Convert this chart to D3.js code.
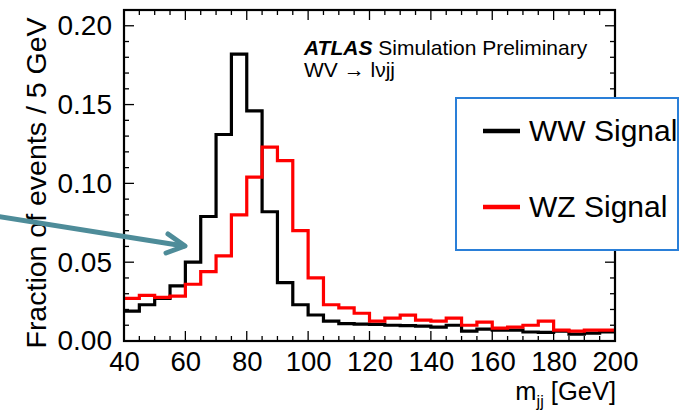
<!DOCTYPE html>
<html>
<head>
<meta charset="utf-8">
<script src="https://cdn.jsdelivr.net/npm/d3@7"></script>
<style>
  html, body { margin: 0; padding: 0; background: #ffffff; }
  svg { display: block; font-family: "Liberation Sans", Arial, Helvetica, sans-serif; }
</style>
</head>
<body>
<svg id="chart" width="699" height="410"></svg>
<script>
// ---- data ----
const binLow = [40,45,50,55,60,65,70,75,80,85,90,95,100,105,110,115,120,125,130,135,140,145,150,155,160,165,170,175,180,185,190,195];
const binWidth = 5;
const wwSignal = [0.019,0.023,0.027,0.035,0.050,0.079,0.131,0.182,0.146,0.082,0.037,0.023,0.0165,0.0126,0.011,0.0107,0.0105,0.010,0.0098,0.0095,0.0088,0.010,0.0063,0.0075,0.0069,0.0069,0.0057,0.0055,0.0063,0.0044,0.0050,0.0057];
const wzSignal = [0.027,0.029,0.0277,0.0285,0.036,0.044,0.054,0.080,0.104,0.123,0.1145,0.070,0.040,0.023,0.021,0.0176,0.0126,0.0145,0.0164,0.0132,0.0126,0.0145,0.010,0.012,0.0082,0.0088,0.010,0.0126,0.0069,0.0063,0.0069,0.0069];
const xMajorTicks = [40,60,80,100,120,140,160,180,200];
const yMajorTicks = [0.00,0.05,0.10,0.15,0.20];
const seriesNames = ["WW Signal","WZ Signal"];
const seriesColors = ["#000000","#ff0000"];

// ---- layout ----
const svg = d3.select("#chart");
const L = 124, R = 615, T = 10, B = 341;
const x = d3.scaleLinear().domain([40,200]).range([L,R]);
const y = d3.scaleLinear().domain([0,0.21]).range([B,T]);

const xMinor = d3.range(40,201,5);
const yMinor = d3.range(0,0.2101,0.01);

// ticks (inside, all four sides)
const tk = svg.append("g").attr("stroke","#000").attr("stroke-width",1.3);
xMinor.forEach(v => {
  const major = v % 20 === 0;
  const len = major ? 10 : 5;
  tk.append("line").attr("x1",x(v)).attr("x2",x(v)).attr("y1",B).attr("y2",B-len);
  tk.append("line").attr("x1",x(v)).attr("x2",x(v)).attr("y1",T).attr("y2",T+len);
});
yMinor.forEach(v => {
  const major = Math.abs(Math.round(v*100) % 5) === 0;
  const len = major ? 10 : 5;
  tk.append("line").attr("x1",L).attr("x2",L+len).attr("y1",y(v)).attr("y2",y(v));
  tk.append("line").attr("x1",R).attr("x2",R-len).attr("y1",y(v)).attr("y2",y(v));
});

// histograms
const stepLine = d3.line().x(d => x(d[0])).y(d => y(d[1])).curve(d3.curveStepAfter);
function pts(vals){
  const p = binLow.map((b,i) => [b, vals[i]]);
  p.push([binLow[binLow.length-1] + binWidth, vals[vals.length-1]]);
  return p;
}
[wwSignal, wzSignal].forEach((vals,i) => {
  svg.append("path").attr("d", stepLine(pts(vals)))
    .attr("fill","none").attr("stroke",seriesColors[i]).attr("stroke-width",3.2)
    .attr("stroke-linejoin","miter");
});

// frame
svg.append("rect").attr("x",L).attr("y",T).attr("width",R-L).attr("height",B-T)
  .attr("fill","none").attr("stroke","#000").attr("stroke-width",2.2);

// tick labels via d3 axes (no lines)
const xAxis = svg.append("g").attr("transform",`translate(0,${B})`)
  .call(d3.axisBottom(x).tickValues(xMajorTicks).tickFormat(d3.format("d")).tickSize(0).tickPadding(10));
xAxis.select(".domain").remove();
xAxis.selectAll("text").attr("font-size",27.5).attr("fill","#000").attr("dy","0.74em")
  .style("font-family","'Liberation Sans', Arial, sans-serif");

const yAxis = svg.append("g").attr("transform",`translate(${L},0)`)
  .call(d3.axisLeft(y).tickValues(yMajorTicks).tickFormat(d3.format(".2f")).tickSize(0).tickPadding(12));
yAxis.select(".domain").remove();
yAxis.selectAll("text").attr("font-size",28).attr("fill","#000")
  .style("font-family","'Liberation Sans', Arial, sans-serif");

// axis titles
const xt = svg.append("text").attr("x",R+1).attr("y",400).attr("text-anchor","end")
  .attr("font-size",25.5).attr("fill","#000");
xt.append("tspan").text("m");
xt.append("tspan").attr("font-size",16).attr("dy",7).text("jj");
xt.append("tspan").attr("dy",-7).text(" [GeV]");

svg.append("text").attr("transform","translate(46,183) rotate(-90)")
  .attr("text-anchor","middle").attr("font-size",28.5).attr("fill","#000")
  .text("Fraction of events / 5 GeV");

// ATLAS label
const at = svg.append("text").attr("x",304).attr("y",55).attr("font-size",21).attr("fill","#000");
at.append("tspan").attr("font-weight","bold").attr("font-style","italic").text("ATLAS");
at.append("tspan").text(" Simulation Preliminary");
svg.append("text").attr("x",304).attr("y",77).attr("font-size",21).attr("fill","#000")
  .text("WV \u2192 l\u03bdjj");

// legend
const lg = svg.append("g");
lg.append("rect").attr("x",456).attr("y",98).attr("width",222).attr("height",152)
  .attr("fill","#fff").attr("stroke","#2a7fd8").attr("stroke-width",2);
const legY = [131, 207];
seriesNames.forEach((n,i) => {
  lg.append("line").attr("x1",483).attr("x2",520).attr("y1",legY[i]).attr("y2",legY[i])
    .attr("stroke",seriesColors[i]).attr("stroke-width",4.5);
  lg.append("text").attr("x",529).attr("y",legY[i]+10).attr("font-size",30).attr("fill","#000").text(n);
});

// annotation arrow
const ar = svg.append("g").attr("stroke","#4e8c99").attr("stroke-width",5)
  .attr("stroke-linecap","round").attr("fill","none");
ar.append("line").attr("x1",-5).attr("y1",216).attr("x2",184).attr("y2",246);
ar.append("polyline").attr("points","168,234 185,246 166,253").attr("stroke-linejoin","round");
</script>
</body>
</html>
